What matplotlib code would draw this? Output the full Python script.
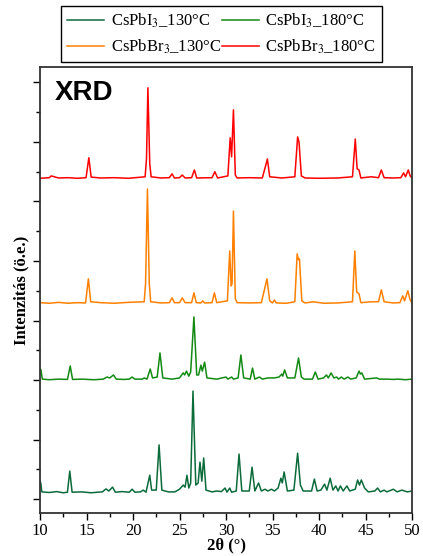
import numpy as np
import matplotlib
matplotlib.use("Agg")
import matplotlib.pyplot as plt
from matplotlib.ticker import MultipleLocator

plt.rcParams["font.family"] = ["Liberation Serif", "DejaVu Serif"]
plt.rcParams["mathtext.fontset"] = "stix"

# XRD patterns: 2theta (deg) and intensity above baseline (a.u.)
labels = ["CsPbI$_3$_130°C", "CsPbI$_3$_180°C", "CsPbBr$_3$_130°C", "CsPbBr$_3$_180°C"]

tt_i130 = [10.0, 10.08, 10.2, 11.0, 11.8, 12.5, 12.95, 13.2, 13.45, 14.5, 15.5, 16.2, 16.7, 17.1, 17.4, 17.8, 18.1,
           18.8, 19.6, 19.9, 20.2, 20.8, 21.1, 21.4, 21.8, 22.0, 22.5, 22.8, 23.1, 23.8, 24.5, 25.0, 25.4, 25.6,
           25.8, 26.0, 26.2, 26.45, 26.75, 27.0, 27.2, 27.4, 27.6, 27.85, 28.5, 29.0, 29.5, 29.9, 30.1, 30.4, 30.6,
           31.1, 31.4, 31.7, 32.5, 32.8, 33.1, 33.5, 33.8, 34.2, 34.5, 34.9, 35.2, 35.6, 35.9, 36.05, 36.25, 36.6,
           37.3, 37.7, 38.0, 38.3, 39.2, 39.5, 39.8, 40.2, 40.6, 40.85, 41.2, 41.5, 41.8, 42.05, 42.3, 42.6, 43.0,
           43.3, 43.9, 44.15, 44.35, 44.55, 44.9, 45.3, 46.0, 46.3, 46.6, 47.0, 47.3, 48.0, 48.4, 48.9, 49.5, 50.0]
int_i130 = [200, 170, 20, 10, 25, 5, 15, 370, 15, 20, 5, 15, 20, 70, 35, 100, 15,
            25, 15, 65, 15, 20, 50, 15, 300, 50, 50, 810, 50, 20, 20, 65, 135, 100,
            300, 85, 170, 1715, 135, 170, 520, 200, 590, 50, 20, 35, 25, 85, 15, 85, 15,
            35, 655, 35, 35, 435, 35, 170, 35, 65, 35, 65, 35, 85, 250, 170, 355, 35,
            50, 670, 135, 35, 35, 235, 35, 50, 150, 50, 250, 50, 120, 35, 120, 35, 120,
            35, 65, 220, 135, 220, 85, 20, 35, 85, 20, 50, 20, 65, 20, 50, 20, 35]

tt_i180 = [10.0, 10.1, 10.25, 11.0, 12.0, 12.95, 13.25, 13.5, 14.5, 15.8, 16.8, 17.2, 17.5, 17.9, 18.2, 19.0,
           19.6, 19.9, 20.2, 21.0, 21.2, 21.5, 21.85, 22.1, 22.6, 22.9, 23.2, 24.2, 25.0, 25.4, 25.55, 25.75,
           26.0, 26.2, 26.55, 26.85, 27.05, 27.3, 27.45, 27.7, 27.95, 29.0, 30.0, 30.2, 30.6, 30.8, 31.3, 31.6,
           31.9, 32.6, 32.85, 33.1, 33.6, 33.9, 34.5, 35.2, 35.7, 36.0, 36.1, 36.3, 36.6, 37.4, 37.8, 38.1,
           38.4, 39.3, 39.6, 39.9, 40.5, 40.8, 41.0, 41.3, 41.6, 41.9, 42.1, 42.4, 42.7, 43.1, 43.4, 44.0,
           44.3, 44.45, 44.6, 44.9, 46.2, 46.5, 47.3, 48.0, 48.5, 49.3, 50.0]
int_i180 = [185, 170, 15, 5, 15, 10, 235, 10, 15, 5, 15, 50, 35, 85, 15, 10,
            15, 50, 15, 15, 35, 15, 185, 35, 50, 455, 35, 15, 35, 120, 85, 150,
            65, 135, 1060, 85, 85, 250, 150, 300, 35, 15, 50, 15, 50, 15, 35, 420,
            35, 15, 200, 15, 50, 15, 35, 35, 50, 100, 65, 170, 35, 35, 370, 50,
            15, 15, 135, 15, 35, 85, 35, 120, 35, 50, 15, 50, 15, 50, 15, 35,
            150, 100, 120, 15, 35, 15, 15, 10, 15, 5, 15]

tt_br130 = [10.0, 11.0, 12.0, 13.0, 14.0, 14.9, 15.2, 15.45, 16.5, 18.0, 19.5, 21.2, 21.35, 21.55, 21.75, 21.9,
            23.0, 23.9, 24.2, 24.45, 25.0, 25.3, 25.6, 26.3, 26.55, 26.8, 27.3, 27.5, 27.7, 28.5, 28.75, 29.0,
            30.15, 30.4, 30.55, 30.65, 30.8, 31.0, 31.2, 32.5, 33.8, 34.15, 34.4, 34.7, 35.0, 35.2, 35.4, 36.5,
            37.4, 37.65, 37.8, 37.9, 38.15, 38.5, 39.4, 40.5, 42.0, 43.6, 43.85, 44.05, 44.3, 44.5, 45.6, 46.4,
            46.7, 47.0, 48.0, 48.7, 49.0, 49.2, 49.55, 49.8, 50.0]
int_br130 = [20, 10, 25, 10, 20, 15, 420, 35, 20, 10, 25, 35, 335, 1930, 335, 35,
             15, 20, 100, 20, 20, 100, 20, 20, 185, 20, 15, 50, 15, 20, 185, 20,
             50, 890, 300, 335, 1560, 85, 20, 15, 20, 250, 420, 50, 15, 65, 15, 10,
             35, 840, 740, 755, 50, 15, 35, 10, 15, 35, 890, 200, 170, 20, 35, 35,
             235, 35, 15, 20, 135, 50, 220, 65, 20]

tt_br180 = [10.0, 11.0, 11.2, 12.0, 13.0, 14.0, 14.95, 15.25, 15.5, 16.5, 18.0, 19.5, 21.3, 21.45, 21.6, 21.8,
            21.95, 23.0, 23.9, 24.2, 24.45, 25.0, 25.3, 25.6, 26.3, 26.6, 26.85, 28.5, 28.8, 29.1, 30.2, 30.45,
            30.6, 30.8, 31.0, 31.2, 32.5, 33.9, 34.2, 34.45, 34.7, 36.0, 37.4, 37.7, 37.85, 38.1, 38.5, 40.0,
            42.0, 43.6, 43.9, 44.1, 44.3, 44.5, 45.6, 46.4, 46.7, 47.0, 48.0, 48.8, 49.1, 49.3, 49.6, 49.8, 50.0]
int_br180 = [10, 20, 50, 15, 20, 10, 20, 355, 30, 15, 20, 10, 35, 335, 1530, 250,
             35, 15, 20, 85, 15, 20, 65, 15, 20, 150, 15, 20, 120, 15, 50, 690,
             370, 1160, 65, 15, 20, 15, 185, 335, 35, 15, 35, 705, 620, 50, 15, 10,
             15, 35, 670, 170, 150, 15, 35, 20, 150, 20, 15, 20, 100, 35, 150, 50, 15]

series_x = [tt_i130, tt_i180, tt_br130, tt_br180]
series_y = [int_i130, int_i180, int_br130, int_br180]
offsets = [100, 2000, 3280, 5380]
colors = ["#0b6b3a", "#138a13", "#ff8000", "#ff0000"]

fig = plt.figure(figsize=(4.23, 5.56), dpi=100)
ax = fig.add_axes([0.0946, 0.0773, 0.8794, 0.8022])

lines = []
for x, y, off, c, lab in zip(series_x, series_y, offsets, colors, labels):
    ln, = ax.plot(x, np.array(y) + off, color=c, lw=1.1, label=lab)
    lines.append(ln)

ax.set_xlim(10, 50)
ax.set_ylim(-235, 7260)
ax.xaxis.set_major_locator(MultipleLocator(5))
ax.xaxis.set_minor_locator(MultipleLocator(2.5))
ax.yaxis.set_major_locator(MultipleLocator(1000))
ax.yaxis.set_minor_locator(MultipleLocator(500))
ax.tick_params(axis="both", which="major", direction="out", length=5, width=1, labelsize=12, pad=2)
ax.tick_params(axis="both", which="minor", direction="out", length=3, width=1)
ax.tick_params(axis="y", which="both", labelleft=False)
for s in ax.spines.values():
    s.set_linewidth(1.3)
    s.set_color("#333333")

ax.set_xlabel("2θ (°)", fontsize=12, fontweight="bold", labelpad=-1)
ax.set_ylabel("Intenzitás (ö.e.)", fontsize=12, fontweight="bold", labelpad=3)
ax.text(0.04, 0.97, "XRD", transform=ax.transAxes, ha="left", va="top",
        fontsize=20, fontweight="bold", family=["Liberation Sans", "DejaVu Sans"])

# row-wise legend order: I130, I180 / Br130, Br180
order = [0, 2, 1, 3]
fig.legend([lines[i] for i in order], [labels[i] for i in order],
           loc="upper center", bbox_to_anchor=(0.524, 0.989), borderaxespad=0,
           ncol=2, fontsize=12, frameon=True, fancybox=False, edgecolor="black",
           framealpha=1, handlelength=2.2, handletextpad=0.4, columnspacing=0.05,
           borderpad=0.35, labelspacing=0.45)

fig.savefig("out.png", dpi=100)
